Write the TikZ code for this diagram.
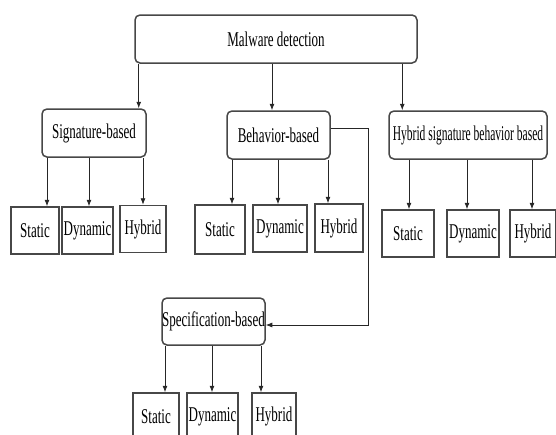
\documentclass[tikz,border=0pt]{standalone}
\usepackage{fontspec}
\setmainfont{Liberation Serif}[FakeStretch=0.62]
\newfontfamily\narrowfont{Liberation Serif}[FakeStretch=0.55]
\usetikzlibrary{arrows.meta}

\begin{document}
\begin{tikzpicture}[
    x=1pt, y=-1pt,
    box/.style={%
      draw=black!72,
      line width=1.5pt,
      rectangle,
      rounded corners=5pt,
      fill=white,
      inner sep=0pt,
      minimum height=48pt,
      font=\fontsize{21}{23}\selectfont,
    },
    leaf/.style={%
      draw=black!72,
      line width=1.5pt,
      rectangle,
      fill=white,
      inner sep=0pt,
      minimum height=47pt,
      font=\fontsize{21}{23}\selectfont,
    },
    arrow/.style={%
      draw=black!85,
      line width=0.8pt,
      -{Latex[length=6.5pt,width=5pt]},
    },
  ]

    \useasboundingbox (0,0) rectangle (556,434);
    \clip (0,0) rectangle (556,434);

    \node [box,minimum width=282pt] (M) at (276,39) {Malware detection};
    \node [box,minimum width=104pt] (SB) at (94,133) {Signature-based};
    \node [box,minimum width=103pt] (BB) at (278.5,135) {Behavior-based};
    \node [box,minimum width=158pt,font=\fontsize{21}{23}\narrowfont] (HB) at (468,135) {Hybrid signature behavior based};
    \node [box,minimum width=103pt,minimum height=47pt] (PB) at (213.5,321.5) {Specification-based};

    \path (SB) ++(-59,97.5) node [leaf,minimum width=48pt] (S1) {Static};
    \path (SB) ++(-6.5,97.5) node [leaf,minimum width=51pt] (D1) {Dynamic};
    \path (SB) ++(49,96) node [leaf,minimum width=46pt] (H1) {Hybrid};
    \path (BB) ++(-58.5,94.5) node [leaf,minimum width=50pt,minimum height=49pt] (S2) {Static};
    \path (BB) ++(1.5,93.5) node [leaf,minimum width=54pt] (D2) {Dynamic};
    \path (BB) ++(60.5,93) node [leaf,minimum width=48pt,minimum height=48pt] (H2) {Hybrid};
    \path (HB) ++(-60,98.5) node [leaf,minimum width=52pt] (S3) {Static};
    \path (HB) ++(5,98.5) node [leaf,minimum width=52pt] (D3) {Dynamic};
    \path (HB) ++(65,98.5) node [leaf,minimum width=46pt] (H3) {Hybrid};
    \path (PB) ++(-57.5,95) node [leaf,minimum width=46pt] (S4) {Static};
    \path (PB) ++(-1,95) node [leaf,minimum width=51pt] (D4) {Dynamic};
    \path (PB) ++(60.5,95) node [leaf,minimum width=44pt] (H4) {Hybrid};


    \draw [arrow] ([xshift=-8pt]SB.north east |- M.south) -- ([xshift=-8pt]SB.north east);
    \draw [arrow] ([xshift=-6.5pt]BB.north |- M.south) -- ([xshift=-6.5pt]BB.north);
    \draw [arrow] ([xshift=14pt]HB.north west |- M.south) -- ([xshift=14pt]HB.north west);

    \draw [arrow] ([xshift=12pt]S1.north |- SB.south) -- ([xshift=12pt]S1.north);
    \draw [arrow] ([xshift=1.5pt]D1.north |- SB.south) -- ([xshift=1.5pt]D1.north);
    \draw [arrow] (H1.north |- SB.south) -- (H1.north);

    \draw [arrow] ([xshift=12pt]S2.north |- BB.south) -- ([xshift=12pt]S2.north);
    \draw [arrow] ([xshift=-2pt]D2.north |- BB.south) -- ([xshift=-2pt]D2.north);
    \draw [arrow] ([xshift=-11pt]H2.north |- BB.south) -- ([xshift=-11pt]H2.north);

    \draw [arrow] ([xshift=1pt]S3.north |- HB.south) -- ([xshift=1pt]S3.north);
    \draw [arrow] ([xshift=-6pt]D3.north |- HB.south) -- ([xshift=-6pt]D3.north);
    \draw [arrow] ([xshift=-1pt]H3.north |- HB.south) -- ([xshift=-1pt]H3.north);

    \draw [arrow] ([xshift=9pt]S4.north |- PB.south) -- ([xshift=9pt]S4.north);
    \draw [arrow] ([xshift=-0.5pt]D4.north |- PB.south) -- ([xshift=-0.5pt]D4.north);
    \draw [arrow] ([xshift=-13pt]H4.north |- PB.south) -- ([xshift=-13pt]H4.north);

    \draw [arrow] ([yshift=7pt]BB.east) -- ++(38,0) |- ([yshift=-3.5pt]PB.east);


\end{tikzpicture}
\end{document}
